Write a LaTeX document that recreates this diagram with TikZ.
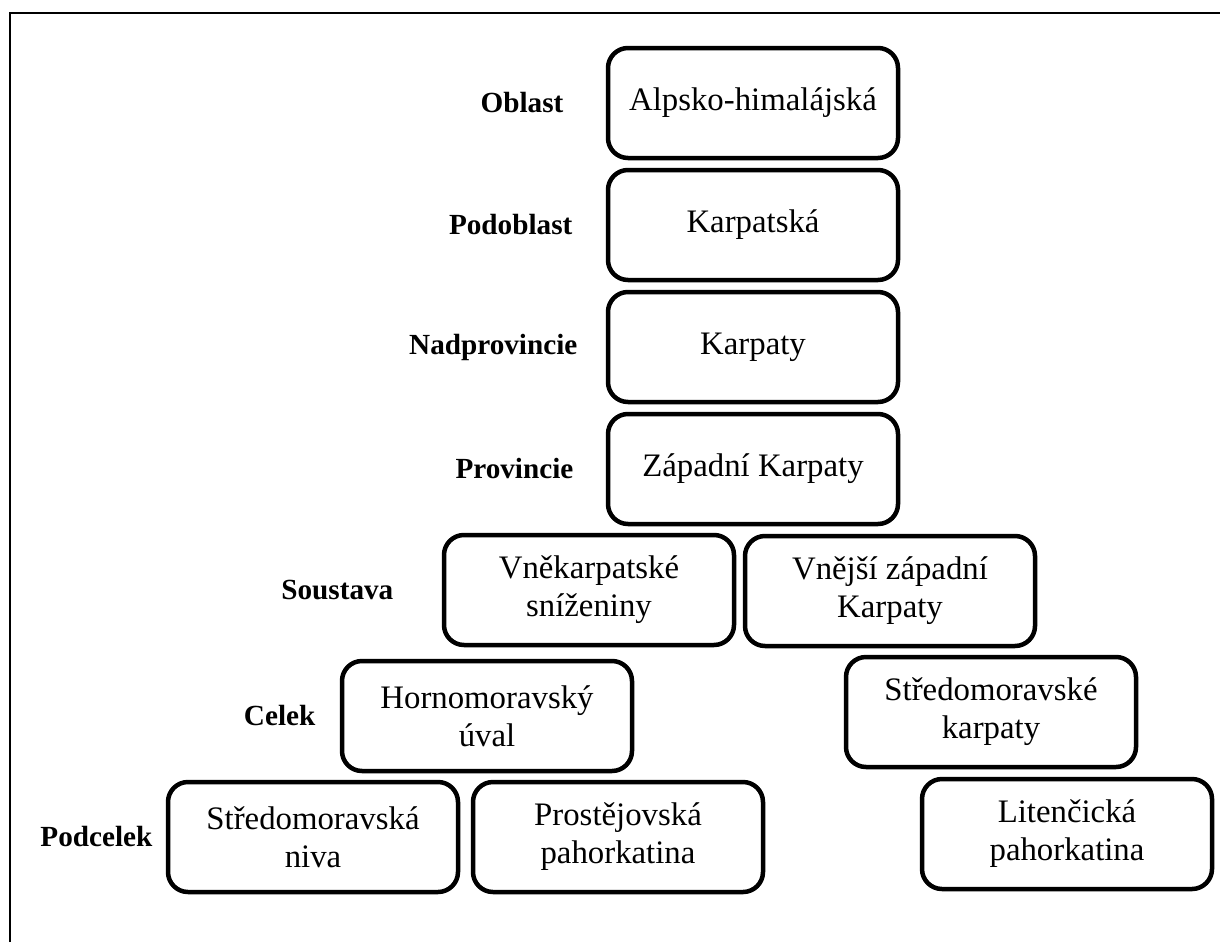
\documentclass[tikz,border=0pt]{standalone}
\usepackage{fontspec}
\setmainfont{Liberation Serif}
\usetikzlibrary{positioning}

\begin{document}
\begin{tikzpicture}[x=0.5pt,y=-0.5pt,node distance=61pt,
  unit node/.style={draw,line width=2.25pt,rounded corners=10pt,minimum width=145pt,minimum height=55pt,align=center,font=\fontsize{16.4pt}{19pt}\selectfont},
  level node/.style={inner sep=0pt,font=\fontsize{14.6pt}{17pt}\selectfont\bfseries}]

            \useasboundingbox (0,0) rectangle (1220,942);
            \draw[line width=1pt] (9.5,942) -- (9.5,13) -- (1220,13);

            \node[unit node] (alp) at (753,103) {Alpsko-himalájská};
            \node[unit node] (karpatska) [below of = alp] {Karpatská};
            \node[unit node] (karpaty) [below of = karpatska] {Karpaty};
            \node[unit node] (zapadni) [below of = karpaty] {Západní Karpaty};

            \node[unit node] (vnekarp) at (589,590) {Vněkarpatské\\sníženiny};
            \node[unit node] (vnejsi) at (890,591) {Vnější západní\\Karpaty};
            \node[unit node] (horno) at (487,716) {Hornomoravský\\úval};
            \node[unit node] (stredkarp) at (991,712) {Středomoravské\\karpaty};
            \node[unit node] (niva) at (313,837) {Středomoravská\\niva};
            \node[unit node] (prost) at (618,837) {Prostějovská\\pahorkatina};
            \node[unit node] (liten) at (1067,834) {Litenčická\\pahorkatina};

            \node[level node] (oblast) [left=21pt of alp] {Oblast};
            \node[level node] (podoblast) [left=16.5pt of karpatska] {Podoblast};
            \node[level node] (nadprov) [left=14pt of karpaty] {Nadprovincie};
            \node[level node] (prov) [left=16pt of zapadni] {Provincie};
            \node[level node] (soustava) [left=24pt of vnekarp] {Soustava};
            \node[level node] (celek) [left=12pt of horno] {Celek};
            \node[level node] (podcelek) [left=6.5pt of niva] {Podcelek};

            ;
        \end{tikzpicture}
\end{document}
